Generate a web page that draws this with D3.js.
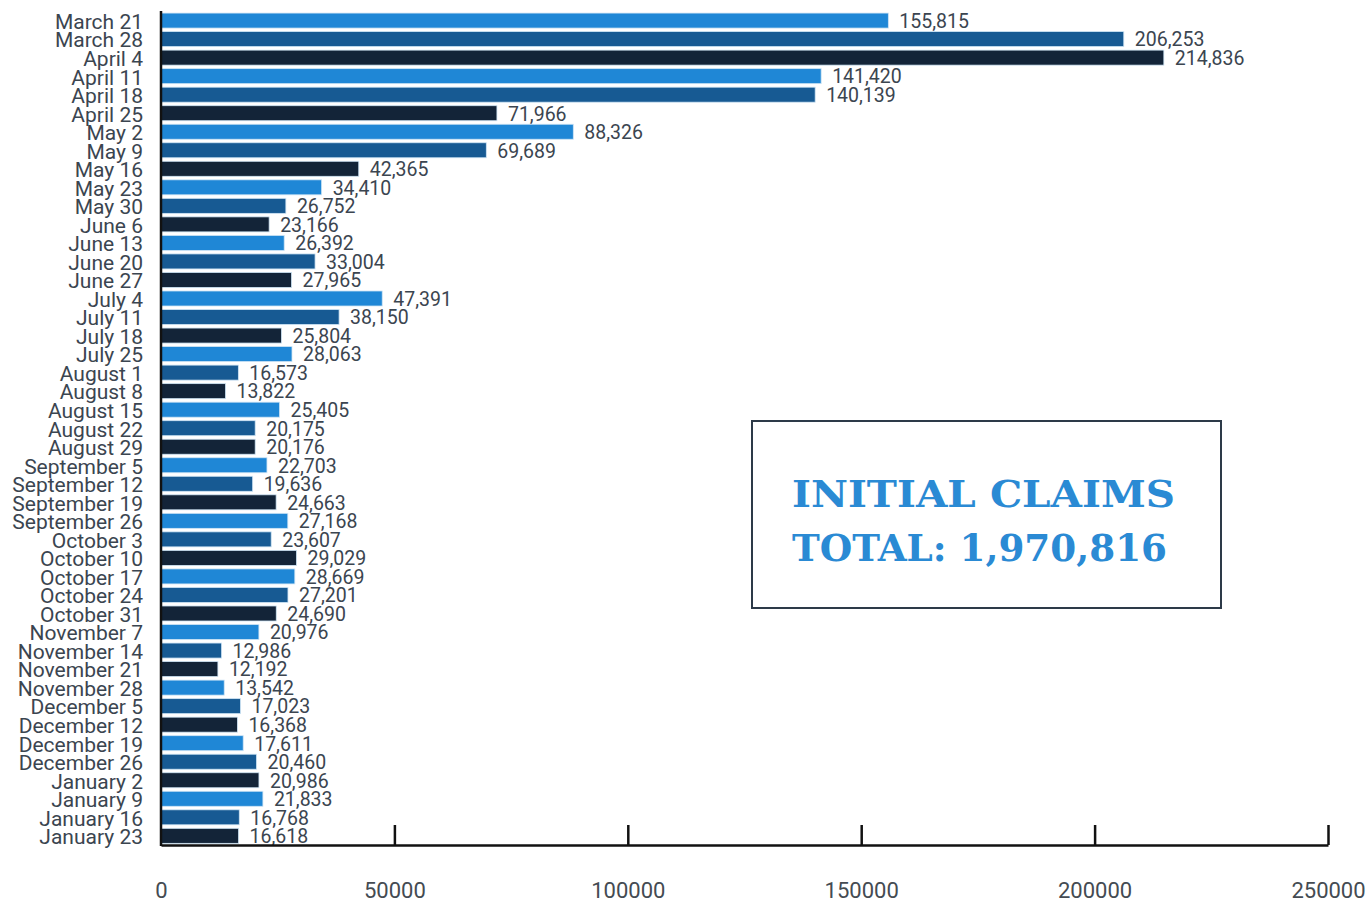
<!DOCTYPE html>
<html>
    <head>
        <meta charset="utf-8" />
        <script src="https://d3js.org/d3.v7.min.js"></script>
        <style>
            body { margin: 0; background: #fff; }
            svg { display: block; }
            .cat { font-family: Roboto, sans-serif; font-size: 21px; fill: #3b4550; }
            .val { font-family: Roboto, sans-serif; font-size: 19.5px; fill: #3b4550; }
            .tick text { font-family: Roboto, sans-serif; font-size: 22px; fill: #444b52; }
            .title { font-family: 'DejaVu Serif Condensed', 'DejaVu Serif', serif; font-stretch: condensed;
                     font-weight: bold; font-size: 37px; fill: #2a8ad4; }
        </style>
    </head>
    <body>
        <svg width="1372" height="910"></svg>
        <script>
            const weeks = ['March 21', 'March 28', 'April 4', 'April 11', 'April 18', 'April 25',
                'May 2', 'May 9', 'May 16', 'May 23', 'May 30', 'June 6', 'June 13', 'June 20',
                'June 27', 'July 4', 'July 11', 'July 18', 'July 25', 'August 1', 'August 8',
                'August 15', 'August 22', 'August 29', 'September 5', 'September 12',
                'September 19', 'September 26', 'October 3', 'October 10', 'October 17',
                'October 24', 'October 31', 'November 7', 'November 14', 'November 21',
                'November 28', 'December 5', 'December 12', 'December 19', 'December 26',
                'January 2', 'January 9', 'January 16', 'January 23']
            const claims = [155815, 206253, 214836, 141420, 140139, 71966, 88326, 69689, 42365,
                34410, 26752, 23166, 26392, 33004, 27965, 47391, 38150, 25804, 28063, 16573,
                13822, 25405, 20175, 20176, 22703, 19636, 24663, 27168, 23607, 29029, 28669,
                27201, 24690, 20976, 12986, 12192, 13542, 17023, 16368, 17611, 20460, 20986,
                21833, 16768, 16618]
            const xTicks = [0, 50000, 100000, 150000, 200000, 250000]
            const barColors = ['#1f87d6', '#175a93', '#132438']
            const titleLines = ['INITIAL CLAIMS', 'TOTAL: 1,970,816']

            const svg = d3.select('svg')
            const x = d3.scaleLinear().domain([0, 250000]).range([161, 1328])
            const y = d3.scaleBand().domain(weeks).range([11.3, 845.1])
                .paddingInner(0.19).paddingOuter(0.095)
            const fmt = d3.format(',')

            // bars
            svg.append('g')
                .selectAll('rect')
                .data(claims)
                .enter()
                .append('rect')
                .attr('x', x(0))
                .attr('y', (d, i) => y(weeks[i]))
                .attr('width', (d) => x(d) - x(0))
                .attr('height', y.bandwidth())
                .style('fill', (d, i) => barColors[i % 3])
                .style('stroke', '#cfe5f5')
                .style('stroke-width', '0.8px')

            // value labels
            svg.append('g')
                .selectAll('text')
                .data(claims)
                .enter()
                .append('text')
                .attr('class', 'val')
                .attr('x', (d) => x(d) + 11)
                .attr('y', (d, i) => y(weeks[i]) + y.bandwidth() / 2 + 0.5)
                .attr('dy', '0.35em')
                .text((d) => fmt(d))

            // category labels
            svg.append('g')
                .selectAll('text')
                .data(weeks)
                .enter()
                .append('text')
                .attr('class', 'cat')
                .attr('x', 143)
                .attr('y', (d) => y(d) + y.bandwidth() / 2 + 1)
                .attr('dy', '0.35em')
                .attr('text-anchor', 'end')
                .text((d) => d)

            // x axis, ticks pointing up
            const xAxis = d3.axisBottom(x).tickValues(xTicks).tickFormat(d3.format('d'))
                .tickSizeInner(-20).tickSizeOuter(0).tickPadding(37)
            const gx = svg.append('g').attr('transform', 'translate(0,845)').call(xAxis)
            gx.select('.domain').style('stroke', '#111').style('stroke-width', '2.5px')
            gx.selectAll('.tick line').style('stroke', '#111').style('stroke-width', '2.5px')
            gx.selectAll('.tick').filter((d) => d === 0).select('line').remove()

            // y axis line
            svg.append('line')
                .attr('x1', x(0)).attr('x2', x(0))
                .attr('y1', 11).attr('y2', 846)
                .style('stroke', '#111')
                .style('stroke-width', '2.5px')

            // total box
            svg.append('rect')
                .attr('x', 752).attr('y', 421)
                .attr('width', 469).attr('height', 187)
                .style('fill', 'none')
                .style('stroke', '#2d3a48')
                .style('stroke-width', '2px')

            svg.append('g')
                .selectAll('text')
                .data(titleLines)
                .enter()
                .append('text')
                .attr('class', 'title')
                .attr('x', 792)
                .attr('y', (d, i) => 507 + i * 54)
                .attr('textLength', (d, i) => (i === 0 ? 383 : 375))
                .attr('lengthAdjust', 'spacingAndGlyphs')
                .text((d) => d)
        </script>
    </body>
</html>
